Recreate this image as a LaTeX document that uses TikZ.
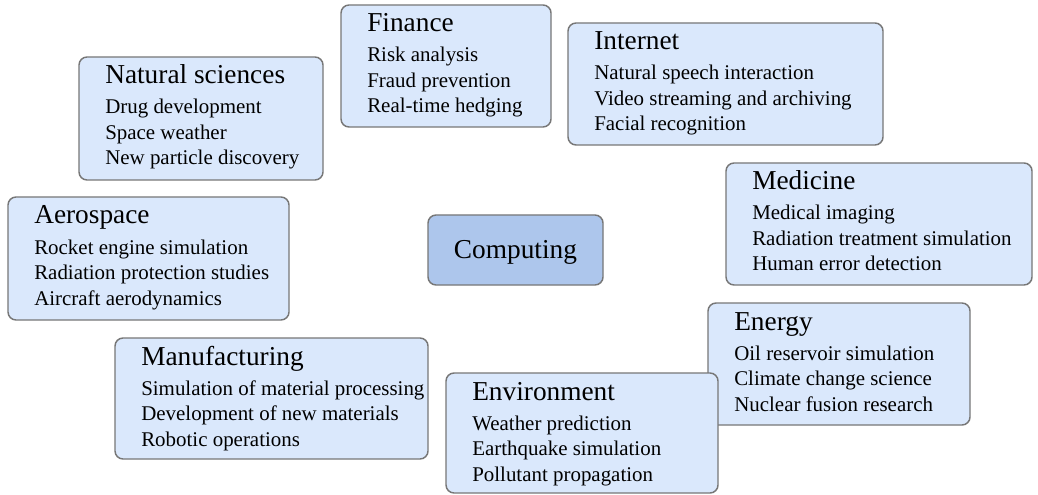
\documentclass[tikz,border=0pt]{standalone}
\usepackage{fontspec}
\setmainfont{Liberation Serif}
\usetikzlibrary{fit,calc}
\definecolor{boxfill}{HTML}{DAE8FC}
\definecolor{boxline}{HTML}{777777}
\definecolor{compfill}{HTML}{ADC6EC}
\tikzset{
  dbox/.style={draw=boxline, fill=boxfill, line width=1.1pt, rounded corners=6pt, inner sep=0pt, outer sep=0pt},
  cbox/.style={dbox, fill=compfill},
  ttl/.style={anchor=base west, inner sep=0pt, font=\fontsize{20.5}{24}\selectfont},
  itm/.style={anchor=base west, inner sep=0pt, font=\fontsize{15.7}{19}\selectfont},
}
\newcommand\dom[9]{%
  \node[dbox, fit={(#2,#3) (#4,#5)}] (#1) {};
  \node[ttl] (#1-t) at ($(#1.north west)+(26,27)$) {#6};
  \node[itm] (#1-a) at ($(#1.north west)+(26,57)$) {#7};
  \node[itm] (#1-b) at ($(#1.north west)+(26,82.5)$) {#8};
  \node[itm] (#1-c) at ($(#1.north west)+(26,108)$) {#9};
}
\begin{document}
\begin{tikzpicture}[x=0.75pt, y=-0.75pt]
\useasboundingbox[fill=white] (0,0) rectangle (1038,495);
\dom{fin}{341}{5}{551}{127}{Finance}{Risk analysis}{Fraud prevention}{Real-time hedging}
\dom{int}{568}{23}{883}{145}{Internet}{Natural speech interaction}{Video streaming and archiving}{Facial recognition}
\dom{nat}{79}{57}{323}{180}{Natural sciences}{Drug development}{Space weather}{New particle discovery}
\dom{med}{726}{163}{1032}{285}{Medicine}{Medical imaging}{Radiation treatment simulation}{Human error detection}
\dom{aero}{8}{197}{289}{320}{Aerospace}{Rocket engine simulation}{Radiation protection studies}{Aircraft aerodynamics}
\dom{ene}{708}{303}{970}{425}{Energy}{Oil reservoir simulation}{Climate change science}{Nuclear fusion research}
\dom{man}{115}{338}{428}{459}{Manufacturing}{Simulation of material processing}{Development of new materials}{Robotic operations}
\dom{env}{446}{373}{718}{493}{Environment}{Weather prediction}{Earthquake simulation}{Pollutant propagation}
\node[cbox, fit={(428,215) (603,285)}] (comp) {};
\node[inner sep=0pt, font=\fontsize{20.5}{24}\selectfont] (comp-t) at ($(comp.center)+(0,2)$) {Computing};
\end{tikzpicture}
\end{document}
